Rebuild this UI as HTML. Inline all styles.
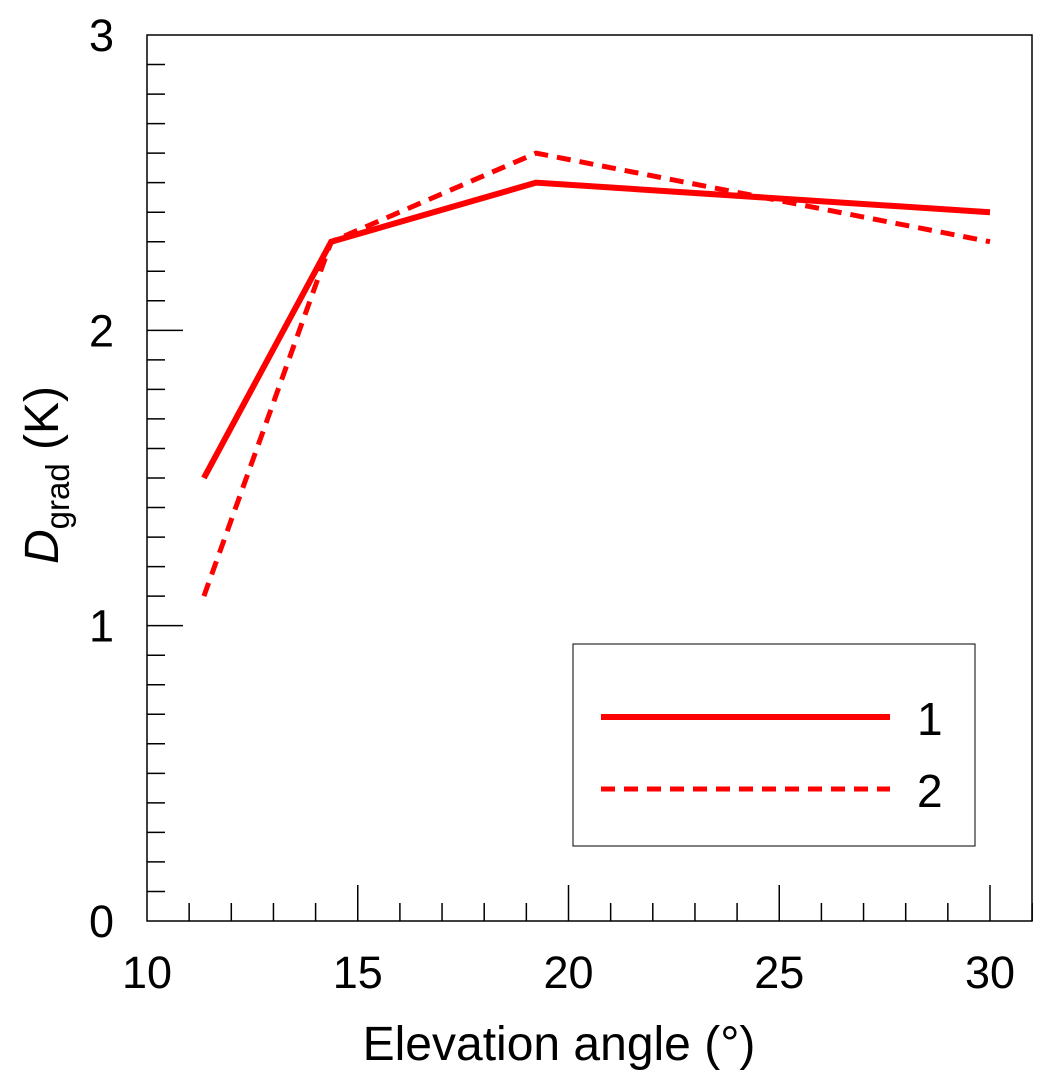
<!DOCTYPE html>
<html><head><meta charset="utf-8"><style>
html,body{margin:0;padding:0;background:#fff;}
svg{display:block;font-family:"Liberation Sans",Arial,sans-serif;}
</style></head><body>
<svg id="chart" width="1051" height="1083" viewBox="0 0 1051 1083">
<rect x="147" y="35" width="885" height="886" fill="none" stroke="#000" stroke-width="1.5"/>
<g id="ticks"></g>
<g id="series"></g>
<text x="-475" y="58" transform="rotate(-90)" text-anchor="middle" font-size="48"><tspan font-style="italic">D</tspan><tspan font-size="33" dy="11">grad</tspan><tspan dy="-11"> (K)</tspan></text>
<text x="559" y="1060" text-anchor="middle" font-size="48">Elevation angle (°)</text>
<g>
<rect x="573" y="644" width="402" height="202" fill="#fff" stroke="#000" stroke-width="1"/>
<line x1="601" y1="717" x2="890" y2="717" stroke="#f00" stroke-width="6"/>
<text x="917" y="735" font-size="46">1</text>
<line x1="601" y1="789" x2="890" y2="789" stroke="#f00" stroke-width="5" stroke-dasharray="14,9"/>
<text x="917" y="807" font-size="46">2</text>
</g>
</svg>
<script>
const xCats = [11.35, 14.37, 19.23, 30];
const series1 = [1.5, 2.3, 2.5, 2.4];
const series2 = [1.1, 2.3, 2.6, 2.3];
const xTickLabels = ["10","15","20","25","30"];
const yTickLabels = ["0","1","2","3"];
const X0=147, XPU=(990-147)/20, Y0=921, YPU=(921-35)/3;
function sx(v){return X0+(v-10)*XPU;}
function sy(v){return Y0-v*YPU;}
const NS="http://www.w3.org/2000/svg";
const tg=document.getElementById('ticks');
function mk(tag,attrs,parent){const e=document.createElementNS(NS,tag);for(const k in attrs)e.setAttribute(k,attrs[k]);parent.appendChild(e);return e;}
for(let i=11;i<=31;i++){
  const major=(i%5===0);const x=sx(i);
  const l=mk('line',{x1:x,x2:x,y1:921,y2:major?885:903,stroke:'#000','stroke-width':1.5},tg);
  
  
}
xTickLabels.forEach(s=>{
  const t=mk('text',{x:sx(+s),y:988,'text-anchor':'middle','font-size':45},tg);t.textContent=s;
  
  
});
for(let i=1;i<30;i++){
  const major=(i%10===0);const y=sy(i/10);
  const l=mk('line',{x1:147,x2:major?183:165,y1:y,y2:y,stroke:'#000','stroke-width':1.5},tg);
  
  
}
yTickLabels.forEach(s=>{
  const t=mk('text',{x:114,y:sy(+s)+16,'text-anchor':'end','font-size':45},tg);t.textContent=s;
  
  
});
const sg=document.getElementById('series');
function pts(arr){return arr.map((v,i)=>sx(xCats[i])+','+sy(v)).join(' ');}
const p1=mk('polyline',{points:pts(series1),fill:'none',stroke:'#f00','stroke-width':6,'stroke-linejoin':'miter'},sg);


const p2=mk('polyline',{points:pts(series2),fill:'none',stroke:'#f00','stroke-width':5,'stroke-dasharray':'14,9'},sg);


</script>
</body></html>
